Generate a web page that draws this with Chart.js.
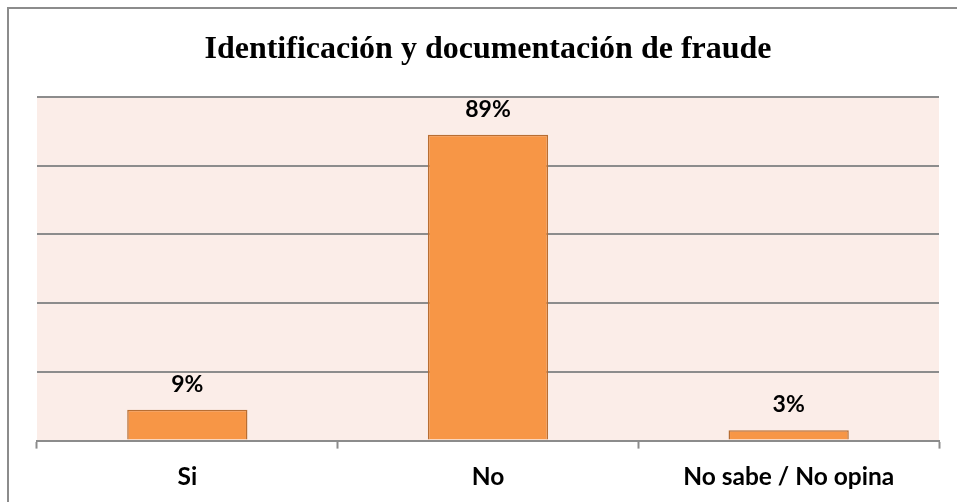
<!DOCTYPE html>
<html>
<head>
<meta charset="utf-8">
<script src="https://cdn.jsdelivr.net/npm/chart.js@4"></script>
<style>
  html, body { margin: 0; padding: 0; background: #ffffff; }
  #wrap { width: 957px; height: 502px; position: relative; }
</style>
</head>
<body>
<div id="wrap"><canvas id="c" width="957" height="502"></canvas></div>
<script>
const titleText = "Identificación y documentación de fraude";
const categories = ["Si", "No", "No sabe / No opina"];
const values = [9, 89, 3];
const valueLabels = ["9%", "89%", "3%"];

const plotBg = {
  id: 'plotBg',
  beforeDraw(chart) {
    const {ctx, chartArea: a} = chart;
    ctx.save();
    ctx.fillStyle = '#FBEDE8';
    ctx.fillRect(a.left, a.top, a.right - a.left, a.bottom - a.top);
    ctx.strokeStyle = '#8c8c8c';
    ctx.lineWidth = 2;
    ctx.beginPath();
    ctx.moveTo(8, 502);
    ctx.lineTo(8, 8);
    ctx.lineTo(957, 8);
    ctx.stroke();
    ctx.restore();
  }
};

const barLabels = {
  id: 'barLabels',
  afterDatasetsDraw(chart) {
    const {ctx} = chart;
    const meta = chart.getDatasetMeta(0);
    ctx.save();
    ctx.fillStyle = '#000';
    ctx.font = 'bold 23px Lato';
    ctx.textAlign = 'center';
    ctx.textBaseline = 'alphabetic';
    meta.data.forEach((bar, i) => {
      ctx.fillText(valueLabels[i], bar.x, bar.y - 18);
    });
    ctx.restore();
  }
};

new Chart(document.getElementById('c'), {
  type: 'bar',
  data: {
    labels: categories,
    datasets: [{
      data: values,
      backgroundColor: '#F79646',
      borderColor: '#B86E33',
      borderWidth: 1.5,
      barPercentage: 0.4,
      categoryPercentage: 1.0
    }]
  },
  options: {
    responsive: false,
    animation: false,
    layout: { padding: { left: 37, right: 18, top: 0, bottom: -4 } },
    plugins: {
      legend: { display: false },
      tooltip: { enabled: false },
      title: {
        display: true,
        text: titleText,
        color: '#000',
        font: { family: 'Liberation Serif', size: 32, weight: 'bold' },
        padding: { top: 31, bottom: 27.6 }
      }
    },
    scales: {
      x: {
        grid: {
          display: true,
          drawOnChartArea: false,
          drawTicks: true,
          tickLength: 8,
          tickColor: '#8c8c8c',
          tickWidth: 2,
          offset: true
        },
        border: { display: true, color: '#8c8c8c', width: 2 },
        ticks: {
          color: '#000',
          font: { family: 'Lato', size: 24.5, weight: 'bold' },
          padding: 14
        }
      },
      y: {
        min: 0,
        max: 100,
        ticks: { stepSize: 20, display: false },
        grid: { color: '#8c8c8c', lineWidth: 2, drawTicks: false },
        border: { display: false }
      }
    }
  },
  plugins: [plotBg, barLabels]
});
</script>
</body>
</html>
